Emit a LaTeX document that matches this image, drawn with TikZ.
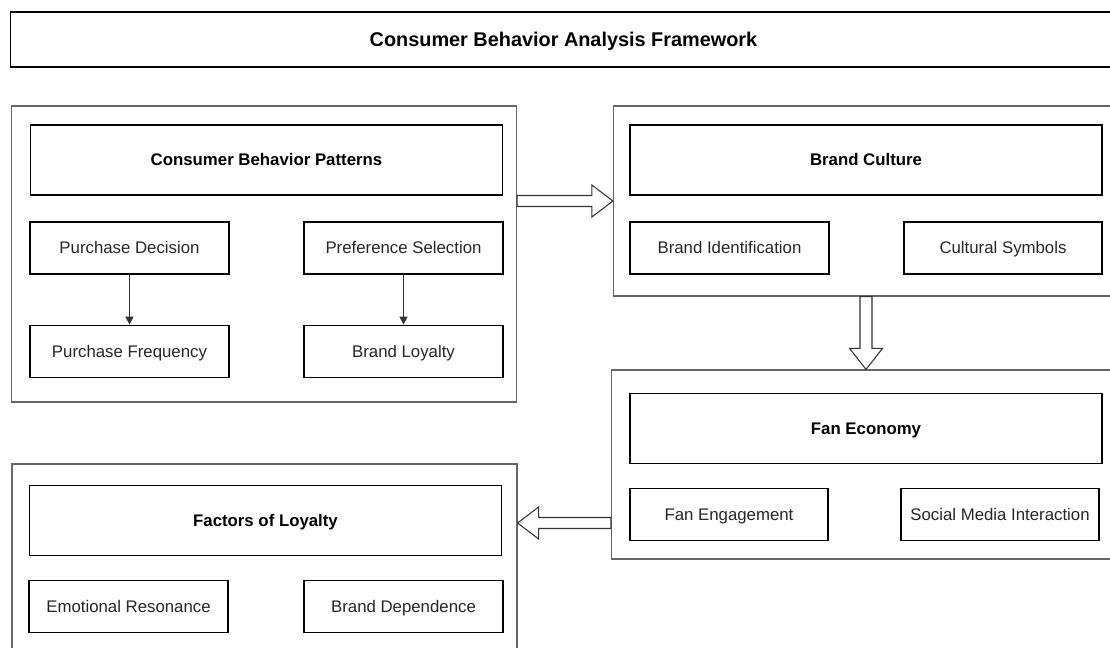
\documentclass[tikz,border=0pt]{standalone}
\usepackage{fontspec}
\setmainfont{Liberation Sans}
\usetikzlibrary{arrows.meta,calc}

\begin{document}
\begin{tikzpicture}[x=0.75pt,y=-0.75pt,
  panel/.style={draw=black!60,line width=0.9pt},
  head/.style={draw,line width=1.3pt,font=\fontsize{12.6}{15}\selectfont\bfseries,text height=9pt,text depth=0pt,minimum width=354pt,minimum height=52.5pt},
  item/.style={draw,line width=1.3pt,text=black!85,font=\fontsize{12.6}{15}\selectfont,text height=9pt,text depth=0pt,minimum width=149pt,minimum height=39pt},
  hollow/.style={draw=black!80,line width=0.8pt,fill=white},
  link/.style={draw=black!80,line width=0.8pt,-{Triangle[length=6pt,width=6pt]}}]
\useasboundingbox (0,0) rectangle (1110,648);
% title
\node[draw,line width=1.3pt,minimum width=829.5pt,minimum height=41.25pt,text height=10.7pt,text depth=0pt,font=\fontsize{14.9}{18}\selectfont\bfseries] (title) at (563.5,39.3) {Consumer Behavior Analysis Framework};
% outer panels
\node[panel,minimum width=378.75pt,minimum height=222pt] (patterns) at (264,254) {};
\node[panel,minimum width=378.75pt,minimum height=142.5pt] (culture) at (866,201) {};
\node[panel,minimum width=378.75pt,minimum height=141.75pt] (fan) at (864,464.5) {};
\node[panel,minimum width=378.75pt,minimum height=177pt] (loyalty) at (264.5,582) {};
% consumer behavior patterns
\node[head] (phead) at (266.5,160) {Consumer Behavior Patterns};
\node[item] (decision) at (129.5,248) {Purchase Decision};
\node[item] (preference) at (403.5,248) {Preference Selection};
\node[item] (frequency) at (129.5,351.5) {Purchase Frequency};
\node[item] (bloyalty) at (403.5,351.5) {Brand Loyalty};
\draw[link] (decision) -- (frequency);
\draw[link] (preference) -- (bloyalty);
% brand culture
\node[head] (chead) at (866,160) {Brand Culture};
\node[item] (ident) at (729.5,248) {Brand Identification};
\node[item] (symbols) at (1003,248) {Cultural Symbols};
% fan economy
\node[head] (fhead) at (866,428.5) {Fan Economy};
\node[item] (engage) at (729,514.5) {Fan Engagement};
\node[item] (social) at (1000,514.5) {Social Media Interaction};
% factors of loyalty
\node[head] (lhead) at (265.5,520.5) {Factors of Loyalty};
\node[item] (emotion) at (128.5,606.5) {Emotional Resonance};
\node[item] (depend) at (403.5,606.5) {Brand Dependence};
% hollow arrows between panels
\draw[hollow] ($(patterns.east |- culture.west)+(0,-5.5)$) -- ($(culture.west)+(-21,-5.5)$) -- ($(culture.west)+(-21,-16)$) -- (culture.west)
  -- ($(culture.west)+(-21,16)$) -- ($(culture.west)+(-21,5.5)$) -- ($(patterns.east |- culture.west)+(0,5.5)$) -- cycle;
\coordinate (fantip) at (culture.south |- fan.north);
\draw[hollow] ($(culture.south)+(-6,0)$) -- ($(fantip)+(-6,-21)$) -- ($(fantip)+(-16.5,-21)$) -- (fantip)
  -- ($(fantip)+(16.5,-21)$) -- ($(fantip)+(6,-21)$) -- ($(culture.south)+(6,0)$) -- cycle;
\coordinate (cd) at ($(fan.west)+(0,58.5)$);
\draw[hollow] ($(cd)+(0,-5.5)$) -- ($(loyalty.east |- cd)+(21,-5.5)$) -- ($(loyalty.east |- cd)+(21,-16)$) -- (loyalty.east |- cd)
  -- ($(loyalty.east |- cd)+(21,16)$) -- ($(loyalty.east |- cd)+(21,5.5)$) -- ($(cd)+(0,5.5)$) -- cycle;
\end{tikzpicture}
\end{document}
